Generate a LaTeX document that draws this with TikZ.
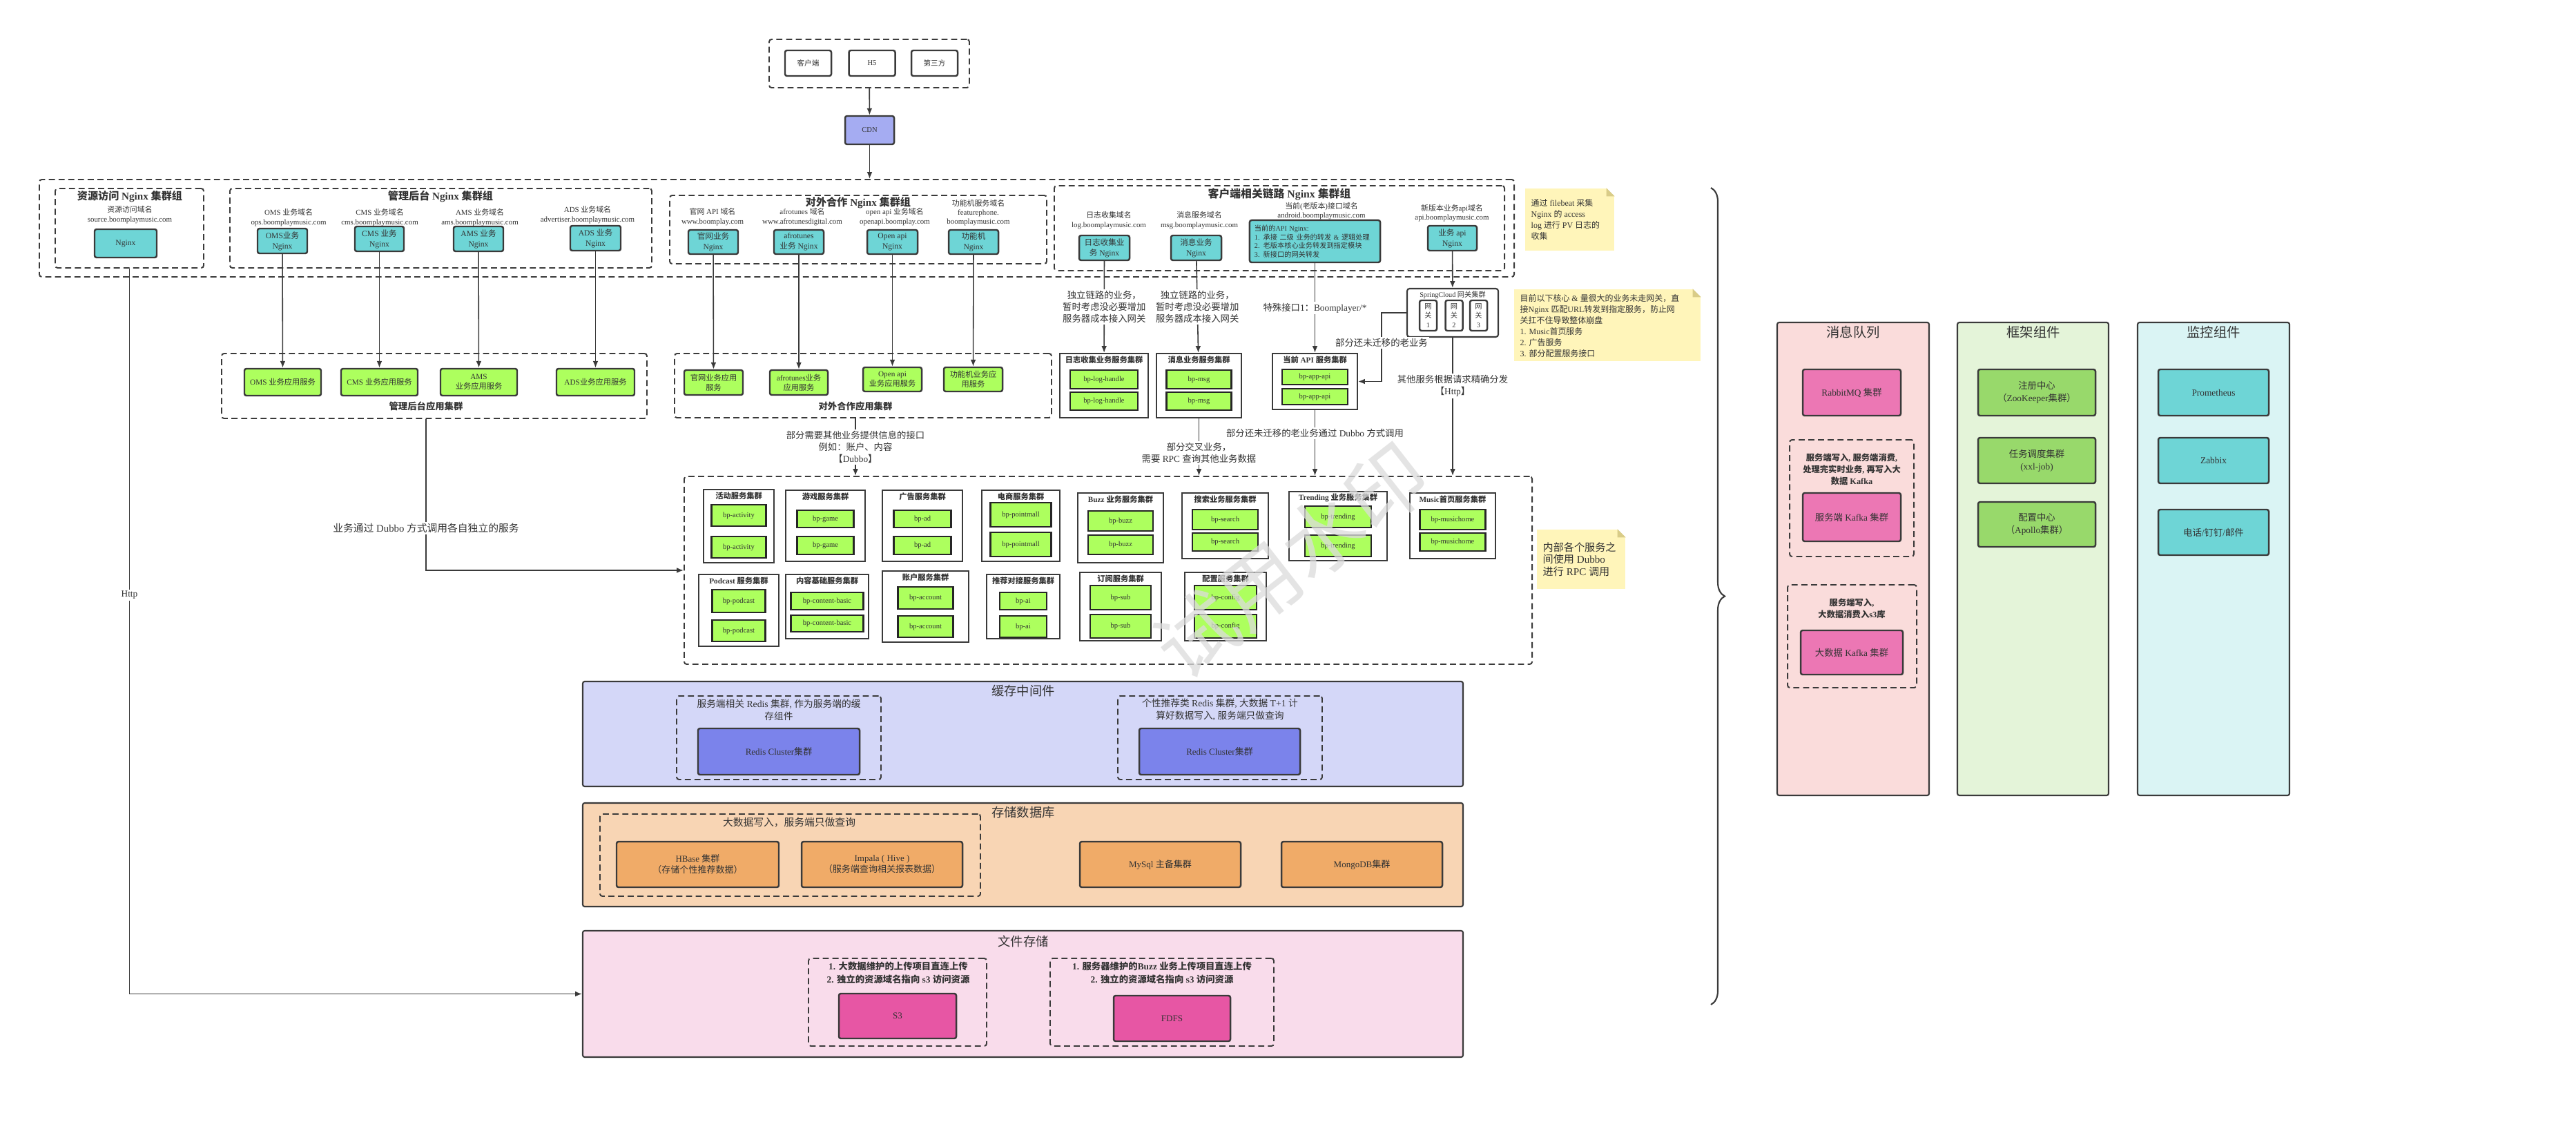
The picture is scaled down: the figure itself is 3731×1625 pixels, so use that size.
\documentclass[tikz,border=0pt]{standalone}
\usepackage{fontspec}
\setmainfont{Liberation Serif}
\newfontfamily\cjkfont{Noto Sans CJK SC}
\usetikzlibrary{arrows.meta,decorations.pathreplacing}

% switch to the CJK font for Chinese characters
\XeTeXinterchartokenstate=1
\newXeTeXintercharclass\cjkcls
\newcount\cjkc
\cjkc="2E80
\loop\XeTeXcharclass\cjkc=\cjkcls\ifnum\cjkc<"9FFF\advance\cjkc by 1\repeat
\cjkc="FF00
\loop\XeTeXcharclass\cjkc=\cjkcls\ifnum\cjkc<"FFEF\advance\cjkc by 1\repeat
\XeTeXinterchartoks 0 \cjkcls={\begingroup\cjkfont}
\XeTeXinterchartoks 4095 \cjkcls={\begingroup\cjkfont}
\XeTeXinterchartoks \cjkcls 0={\endgroup}
\XeTeXinterchartoks \cjkcls 4095={\endgroup}

\definecolor{txt}{HTML}{333333}
\definecolor{lc}{HTML}{3A3A3A}
\definecolor{ngxc}{HTML}{6ED5D6}
\definecolor{appc}{HTML}{ADFF5E}
\definecolor{cdnc}{HTML}{A5ACF2}
\definecolor{cachebg}{HTML}{D4D7F8}
\definecolor{redisc}{HTML}{7B83EB}
\definecolor{storebg}{HTML}{F8D5B4}
\definecolor{storec}{HTML}{F0AB68}
\definecolor{filebg}{HTML}{F9DCEB}
\definecolor{s3c}{HTML}{E756A4}
\definecolor{mqbg}{HTML}{FADCDB}
\definecolor{mqc}{HTML}{EC77B4}
\definecolor{fwbg}{HTML}{E4F4D9}
\definecolor{fwc}{HTML}{98D96B}
\definecolor{monbg}{HTML}{DAF4F4}
\definecolor{notec}{HTML}{FFF5BA}
\definecolor{foldc}{HTML}{D9CC88}
\definecolor{wmc}{HTML}{DCDCDC}

\newcommand{\fsz}[2]{\fontsize{#1pt}{#2pt}\selectfont}
\newcommand{\dogear}[1]{%
  \fill[white] (#1.north east) -- ([xshift=-0.12cm]#1.north east) -- ([yshift=-0.12cm]#1.north east) -- cycle;
  \fill[foldc] ([xshift=-0.12cm]#1.north east) -- ([yshift=-0.12cm]#1.north east) -- ([xshift=-0.12cm,yshift=-0.12cm]#1.north east) -- cycle;}

\begin{document}
\begin{tikzpicture}
  [x=0.01cm,y=-0.01cm,>={Latex[length=2.8pt,width=2.2pt]},
   sz/.style 2 args={minimum width=#1*0.01cm,minimum height=#2*0.01cm},
   box/.style={draw=lc,line width=0.7pt,rounded corners=0.8pt,inner sep=0pt,align=center,text=txt},
   ngx/.style={box,fill=ngxc,font=\fsz{3.3}{4.2}},
   app/.style={box,fill=appc,font=\fsz{3.2}{4}},
   grp/.style={draw=lc,line width=0.55pt,dash pattern=on 2.5pt off 1.5pt,rounded corners=1pt,inner sep=0pt},
   ttl/.style={font=\fsz{4.3}{5}\bfseries,text=txt,inner sep=0pt},
   dom/.style={font=\fsz{3.1}{3.8},align=center,text=txt,inner sep=0pt},
   lbl/.style={font=\fsz{3.8}{4.8},align=center,text=txt,fill=white,inner sep=0.6pt},
   clu/.style={draw=lc,line width=0.6pt,fill=white,inner sep=0pt},
   cttl/.style={font=\fsz{3.2}{3.8}\bfseries,text=txt,inner sep=0pt},
   bp/.style={draw=black!85,line width=0.8pt,fill=appc,font=\fsz{3}{3.6},text=txt,inner sep=0pt},
   panel/.style={draw=lc,line width=0.6pt,rounded corners=0.8pt,inner sep=0pt},
   pttl/.style={font=\fsz{5.2}{6},text=txt,inner sep=0pt},
   ptxt/.style={font=\fsz{3.9}{5.1},align=center,text=txt,inner sep=0pt},
   pbox/.style={box,font=\fsz{3.7}{4.6}},
   rbox/.style={box,font=\fsz{3.8}{5.2}},
   note/.style={fill=notec,inner sep=0pt},
   notetxt/.style={font=\fsz{3.4}{4.6},align=left,text=txt,inner sep=0pt},
   edge/.style={draw=lc,line width=0.45pt}]

  \fill[white] (0,0) rectangle (3731,1625);

  % clients and CDN
  \node[grp,sz={290}{70}] (cli) at (1259,92) {};
  \node[box,fill=white,sz={67}{37},font=\fsz{3}{3.6}] (khd) at (1170.5,91.5) {客户端};
  \node[box,fill=white,sz={67}{37},font=\fsz{3}{3.6}] (h5) at (1263,91.5) {H5};
  \node[box,fill=white,sz={67}{37},font=\fsz{3}{3.6}] (dsf) at (1353.5,91.5) {第三方};
  \node[box,fill=cdnc,sz={71}{41},font=\fsz{3}{3.6}] (cdn) at (1259.5,188.5) {CDN};

  % Nginx groups
  \node[grp,sz={2136}{141}] (ngx_all) at (1125,330.5) {};

  \node[grp,sz={215}{115}] (srcg) at (187.5,330.5) {};
  \node[ttl] (srcg_t) at (188,285) {资源访问 Nginx 集群组};
  \node[dom] (src_d) at (188,311) {资源访问域名\\source.boomplaymusic.com};
  \node[ngx,sz={90}{41}] (src_ngx) at (182,352.5) {Nginx};

  \node[grp,sz={611}{115}] (mgg) at (638.5,330.5) {};
  \node[ttl] (mgg_t) at (638,285) {管理后台 Nginx 集群组};
  \node[dom] (oms_d) at (418,315) {OMS 业务域名\\ops.boomplaymusic.com};
  \node[ngx,sz={72}{36}] (oms_ngx) at (409,349) {OMS业务\\Nginx};
  \node[dom] (cms_d) at (550,315) {CMS 业务域名\\cms.boomplaymusic.com};
  \node[ngx,sz={71}{36}] (cms_ngx) at (549.5,346) {CMS 业务\\Nginx};
  \node[dom] (ams_d) at (695,315) {AMS 业务域名\\ams.boomplaymusic.com};
  \node[ngx,sz={72}{36}] (ams_ngx) at (693,346) {AMS 业务\\Nginx};
  \node[dom] (ads_d) at (851,311) {ADS 业务域名\\advertiser.boomplaymusic.com};
  \node[ngx,sz={73}{36}] (ads_ngx) at (862.5,345) {ADS 业务\\Nginx};

  \node[grp,sz={546}{99}] (extg) at (1243,332.5) {};
  \node[ttl] (extg_t) at (1243,294) {对外合作 Nginx 集群组};
  \node[dom] (gw_d) at (1032,314) {官网 API 域名\\www.boomplay.com};
  \node[ngx,sz={72}{35}] (gw_ngx) at (1033,350.5) {官网业务\\Nginx};
  \node[dom] (afro_d) at (1162,314) {afrotunes 域名\\www.afrotunesdigital.com};
  \node[ngx,sz={72}{35}] (afro_ngx) at (1157,350.5) {afrotunes\\业务 Nginx};
  \node[dom] (oapi_d) at (1296,314) {open api 业务域名\\openapi.boomplay.com};
  \node[ngx,sz={73}{35}] (oapi_ngx) at (1292.5,350.5) {Open api\\Nginx};
  \node[dom] (fp_d) at (1417,308) {功能机服务域名\\featurephone.\\boomplaymusic.com};
  \node[ngx,sz={72}{35}] (fp_ngx) at (1410,350.5) {功能机\\Nginx};

  \node[grp,sz={652}{123}] (cng) at (1853,330.5) {};
  \node[ttl,font=\fsz{4.5}{5}\bfseries] (cng_t) at (1853,281) {客户端相关链路 Nginx 集群组};
  \node[dom] (log_d) at (1606,319) {日志收集域名\\log.boomplaymusic.com};
  \node[ngx,sz={73}{36}] (log_ngx) at (1599.5,359) {日志收集业\\务 Nginx};
  \node[dom] (msg_d) at (1737,319) {消息服务域名\\msg.boomplaymusic.com};
  \node[ngx,sz={73}{36}] (msg_ngx) at (1732.5,359) {消息业务\\Nginx};
  \node[dom] (cur_d) at (1914,305.5) {当前(老版本)接口域名\\android.boomplaymusic.com};
  \node[box,fill=ngxc,font=\fsz{2.9}{3.6},align=left,text width=1.75cm,inner xsep=0.07cm,minimum height=0.61cm] (cur_ngx) at (1904.5,349.5)
    {当前的API Nginx:\\1. 承接 二级 业务的转发 \& 逻辑处理\\2. 老版本核心业务转发到指定模块\\3. 新接口的网关转发};
  \node[dom] (api_d) at (2103,308.5) {新版本业务api域名\\api.boomplaymusic.com};
  \node[ngx,sz={71}{36}] (api_ngx) at (2103.5,345) {业务 api\\Nginx};

  % notes
  \node[note,sz={129}{90}] (n_log) at (2273.5,318) {};
  \dogear{n_log}
  \node[notetxt,anchor=west] (n_log_t) at (2217,318) {通过 filebeat 采集\\Nginx 的 access\\log 进行 PV 日志的\\收集};
  \node[note,sz={270}{104}] (n_gw) at (2328,471) {};
  \dogear{n_gw}
  \node[notetxt,anchor=west] (n_gw_t) at (2201,472) {目前以下核心 \& 量很大的业务未走网关，直\\接Nginx 匹配URL转发到指定服务，防止网\\关扛不住导致整体崩盘\\1. Music首页服务\\2. 广告服务\\3. 部分配置服务接口};
  \node[note,sz={128}{86}] (n_rpc) at (2290,810) {};
  \dogear{n_rpc}
  \node[notetxt,font=\fsz{4.3}{5},anchor=west] (n_rpc_t) at (2234,810) {内部各个服务之\\间使用 Dubbo\\进行 RPC 调用};

  % application clusters
  \node[grp,sz={616}{94}] (mgc) at (629,559) {};
  \node[app,sz={111}{39}] (oms_app) at (409.5,553.5) {OMS 业务应用服务};
  \node[app,sz={111}{39}] (cms_app) at (549.5,553.5) {CMS 业务应用服务};
  \node[app,sz={111}{39}] (ams_app) at (693.5,553.5) {AMS\\业务应用服务};
  \node[app,sz={113}{39}] (ads_app) at (862.5,553.5) {ADS业务应用服务};
  \node[ttl,font=\fsz{3.8}{4.5}\bfseries] (mgc_t) at (617,588) {管理后台应用集群};

  \node[grp,sz={546}{93}] (extc) at (1250,558.5) {};
  \node[app,sz={85}{36}] (gw_app) at (1033.5,554) {官网业务应用\\服务};
  \node[app,sz={84}{36}] (afro_app) at (1157,554) {afrotunes业务\\应用服务};
  \node[app,sz={85}{35}] (oapi_app) at (1292.5,549.5) {Open api\\业务应用服务};
  \node[app,sz={85}{35}] (fp_app) at (1409.5,549.5) {功能机业务应\\用服务};
  \node[ttl,font=\fsz{3.8}{4.5}\bfseries] (extc_t) at (1239,588) {对外合作应用集群};

  \node[clu,rounded corners=1pt,sz={132}{70}] (scg) at (2104,453) {};
  \node[font=\fsz{2.9}{3.5},text=txt,inner sep=0pt] (scg_t) at (2104,427) {SpringCloud 网关集群};
  \foreach \n/\x/\k in {gw1/2068.5/1,gw2/2106/2,gw3/2141.5/3}
    \node[box,fill=white,sz={25}{44},font=\fsz{2.9}{3.9}] (\n) at (\x,457) {网\\关\\\k};

  % internal services
  \node[grp,sz={1228}{272}] (svc) at (1605,826) {};
  \foreach \n/\x/\y/\w/\h/\t/\b/\iw/\ya/\ha/\yb/\hb in {
      logc/1599/558.5/128/93/日志收集业务服务集群/bp-log-handle/98/549.5/27/581/26,
      msgc/1736.5/558.5/123/93/消息业务服务集群/bp-msg/94/549.5/27/581/26,
      apic/1904.5/552.5/123/81/当前 API 服务集群/bp-app-api/95/546/22/574.5/23,
      act/1070/762/102/106/活动服务集群/bp-activity/79/746.5/31/792.5/31,
      game/1195.5/761.5/115/103/游戏服务集群/bp-game/82/751.5/25/790/26,
      ad/1336/761.5/116/103/广告服务集群/bp-ad/83/751.5/25/790/26,
      mall/1478.5/761.5/113/103/电商服务集群/bp-pointmall/88/745.5/35/788.5/35,
      buzz/1623/764.5/124/101/Buzz 业务服务集群/bp-buzz/94/754.5/29/789/28,
      search/1774.5/761.5/125/95/搜索业务服务集群/bp-search/95/752.5/29/785/26,
      trend/1938/762/142/100/Trending 业务服务集群/bp-trending/96/748.5/31/790.5/31,
      mhome/2104/761.5/124/95/Music首页服务集群/bp-musichome/95/752.5/29/785/26,
      pod/1070/884/116/104/Podcast 服务集群/bp-podcast/77/870.5/33/913.5/31,
      cont/1198/878.5/120/93/内容基础服务集群/bp-content-basic/105/870.5/25/903/24,
      acc/1340.5/878.5/125/103/账户服务集群/bp-account/80/866/32/907.5/31,
      ai/1482/878.5/106/93/推荐对接服务集群/bp-ai/68/870.5/25/907.5/31,
      sub/1623/878.5/118/99/订阅服务集群/bp-sub/88/865.5/35/907/34,
      conf/1775/878.5/118/99/配置服务集群/bp-config/90/865.5/35/907/34}
  {
    \node[clu,sz={\w}{\h}] (\n) at (\x,\y) {};
    \node[cttl] (\n_t) at (\x,{\y-\h/2+9}) {\t};
    \node[bp,sz={\iw}{\ha}] (\n_a) at (\x,\ya) {\b};
    \node[bp,sz={\iw}{\hb}] (\n_b) at (\x,\yb) {\b};
  }

  % cache
  \node[panel,fill=cachebg,sz={1275}{152}] (cachep) at (1481.5,1063) {};
  \node[pttl] (cachep_t) at (1482,1001) {缓存中间件};
  \node[grp,sz={296}{121}] (rd1) at (1128,1068.5) {};
  \node[ptxt] (rd1_t) at (1128,1028) {服务端相关 Redis 集群, 作为服务端的缓\\存组件};
  \node[pbox,fill=redisc,sz={234}{67}] (redis1) at (1128,1088.5) {Redis Cluster集群};
  \node[grp,sz={296}{121}] (rd2) at (1767,1068.5) {};
  \node[ptxt] (rd2_t) at (1767,1028) {个性推荐类 Redis 集群, 大数据 T+1 计\\算好数据写入, 服务端只做查询};
  \node[pbox,fill=redisc,sz={233}{67}] (redis2) at (1766.5,1088.5) {Redis Cluster集群};

  % storage
  \node[panel,fill=storebg,sz={1275}{150}] (storep) at (1481.5,1238) {};
  \node[pttl] (storep_t) at (1482,1177) {存储数据库};
  \node[grp,sz={551}{119}] (bigd) at (1144.5,1238.5) {};
  \node[ptxt,font=\fsz{4.2}{5}] (bigd_t) at (1143,1191) {大数据写入，服务端只做查询};
  \node[pbox,fill=storec,sz={235}{66}] (hbase) at (1010.5,1252) {HBase 集群\\（存储个性推荐数据）};
  \node[pbox,fill=storec,sz={233}{66}] (impala) at (1277.5,1252) {Impala ( Hive )\\（服务端查询相关报表数据）};
  \node[pbox,fill=storec,sz={233}{66}] (mysql) at (1680.5,1252) {MySql 主备集群};
  \node[pbox,fill=storec,sz={233}{66}] (mongo) at (1972.5,1252) {MongoDB集群};

  % file storage
  \node[panel,fill=filebg,sz={1275}{183}] (filep) at (1481.5,1439.5) {};
  \node[pttl] (filep_t) at (1482,1363) {文件存储};
  \node[grp,sz={258}{127}] (fs1) at (1300,1451.5) {};
  \node[ptxt,font=\fsz{3.8}{5.2}\bfseries] (fs1_t) at (1301,1409) {1. 大数据维护的上传项目直连上传\\2. 独立的资源域名指向 s3 访问资源};
  \node[pbox,fill=s3c,sz={170}{65}] (s3) at (1300,1471.5) {S3};
  \node[grp,sz={324}{127}] (fs2) at (1683,1451.5) {};
  \node[ptxt,font=\fsz{3.8}{5.2}\bfseries] (fs2_t) at (1683,1409) {1. 服务器维护的Buzz 业务上传项目直连上传\\2. 独立的资源域名指向 s3 访问资源};
  \node[pbox,fill=s3c,sz={169}{66}] (fdfs) at (1697.5,1475) {FDFS};

  % message queue, framework, monitoring
  \node[panel,fill=mqbg,sz={220}{685}] (mqp) at (2684,809.5) {};
  \node[pttl,font=\fsz{5.5}{6.5}] (mqp_t) at (2684,481) {消息队列};
  \node[rbox,fill=mqc,sz={142}{67}] (rabbit) at (2682,568.5) {RabbitMQ 集群};
  \node[grp,sz={180}{169}] (kd1) at (2682,721.5) {};
  \node[ptxt,font=\fsz{3.5}{4.8}\bfseries] (kd1_t) at (2682,680) {服务端写入, 服务端消费,\\处理完实时业务, 再写入大\\数据 Kafka};
  \node[rbox,fill=mqc,sz={142}{70}] (kafka1) at (2682,749) {服务端 Kafka 集群};
  \node[grp,sz={187}{149}] (kd2) at (2682.5,921.5) {};
  \node[ptxt,font=\fsz{3.5}{4.8}\bfseries] (kd2_t) at (2682,881) {服务端写入,\\大数据消费入s3库};
  \node[rbox,fill=mqc,sz={148}{64}] (kafka2) at (2682,945) {大数据 Kafka 集群};

  \node[panel,fill=fwbg,sz={219}{685}] (fwp) at (2944.5,809.5) {};
  \node[pttl,font=\fsz{5.5}{6.5}] (fwp_t) at (2945,481) {框架组件};
  \node[rbox,fill=fwc,sz={170}{67}] (zk) at (2950,568.5) {注册中心\\（ZooKeeper集群）};
  \node[rbox,fill=fwc,sz={170}{66}] (xxl) at (2950,667) {任务调度集群\\(xxl-job)};
  \node[rbox,fill=fwc,sz={170}{65}] (apollo) at (2950,759.5) {配置中心\\（Apollo集群）};

  \node[panel,fill=monbg,sz={220}{685}] (monp) at (3206,809.5) {};
  \node[pttl,font=\fsz{5.5}{6.5}] (monp_t) at (3206,481) {监控组件};
  \node[rbox,fill=ngxc,sz={160}{67}] (prom) at (3206,568.5) {Prometheus};
  \node[rbox,fill=ngxc,sz={160}{66}] (zabbix) at (3206,667) {Zabbix};
  \node[rbox,fill=ngxc,sz={160}{66}] (alarm) at (3206,771) {电话/钉钉/邮件};

  \draw[lc,line width=0.6pt,decorate,decoration={brace,amplitude=0.2cm}] (2478,272) -- (2478,1455);

  % connectors
  \draw[edge,->] (cli) -- (cdn);
  \draw[edge,->] (cdn) -- (cdn|-ngx_all.north);
  \foreach \from/\to in {oms_ngx/oms_app,cms_ngx/cms_app,ams_ngx/ams_app,ads_ngx/ads_app,gw_ngx/gw_app,afro_ngx/afro_app,oapi_ngx/oapi_app,fp_ngx/fp_app,api_ngx/scg}
    \draw[edge,->] (\from) -- (\to);
  \draw[edge,->] (log_ngx) -- node[lbl] {独立链路的业务，\\暂时考虑没必要增加\\服务器成本接入网关} (logc);
  \draw[edge,->] (msg_ngx) -- node[lbl] {独立链路的业务，\\暂时考虑没必要增加\\服务器成本接入网关} (msgc);
  \draw[edge,->] (cur_ngx) -- node[lbl] {特殊接口1：Boomplayer/*} (apic);
  \draw[edge,->] (scg.west) -- ++(-36,0) |- node[lbl,pos=0.22] {部分还未迁移的老业务} (apic.east);
  \draw[edge,->] (scg) -- node[lbl,pos=0.35] {其他服务根据请求精确分发\\【Http】} (scg|-svc.north);
  \draw[edge,->] (apic) -- node[lbl,pos=0.35] {部分还未迁移的老业务通过 Dubbo 方式调用} (apic|-svc.north);
  \draw[edge,->] (msgc) -- node[lbl,pos=0.6] {部分交叉业务，\\需要 RPC 查询其他业务数据} (msgc|-svc.north);
  \draw[edge,->] (extc_t|-extc.south) -- node[lbl] {部分需要其他业务提供信息的接口\\例如：账户、内容\\【Dubbo】} (extc_t|-svc.north);
  \draw[edge,->] (mgc_t|-mgc.south) |- node[lbl,pos=0.36,font=\fsz{4.2}{5}] {业务通过 Dubbo 方式调用各自独立的服务} (svc.west);
  \draw[edge,->] (srcg.south) |- node[lbl,pos=0.225] {Http} (filep.west);

  % watermark
  \node[font=\fsz{33}{33},text=wmc,opacity=0.75,rotate=38] (wmark) at (1870,812) {试用水印};
\end{tikzpicture}
\end{document}
